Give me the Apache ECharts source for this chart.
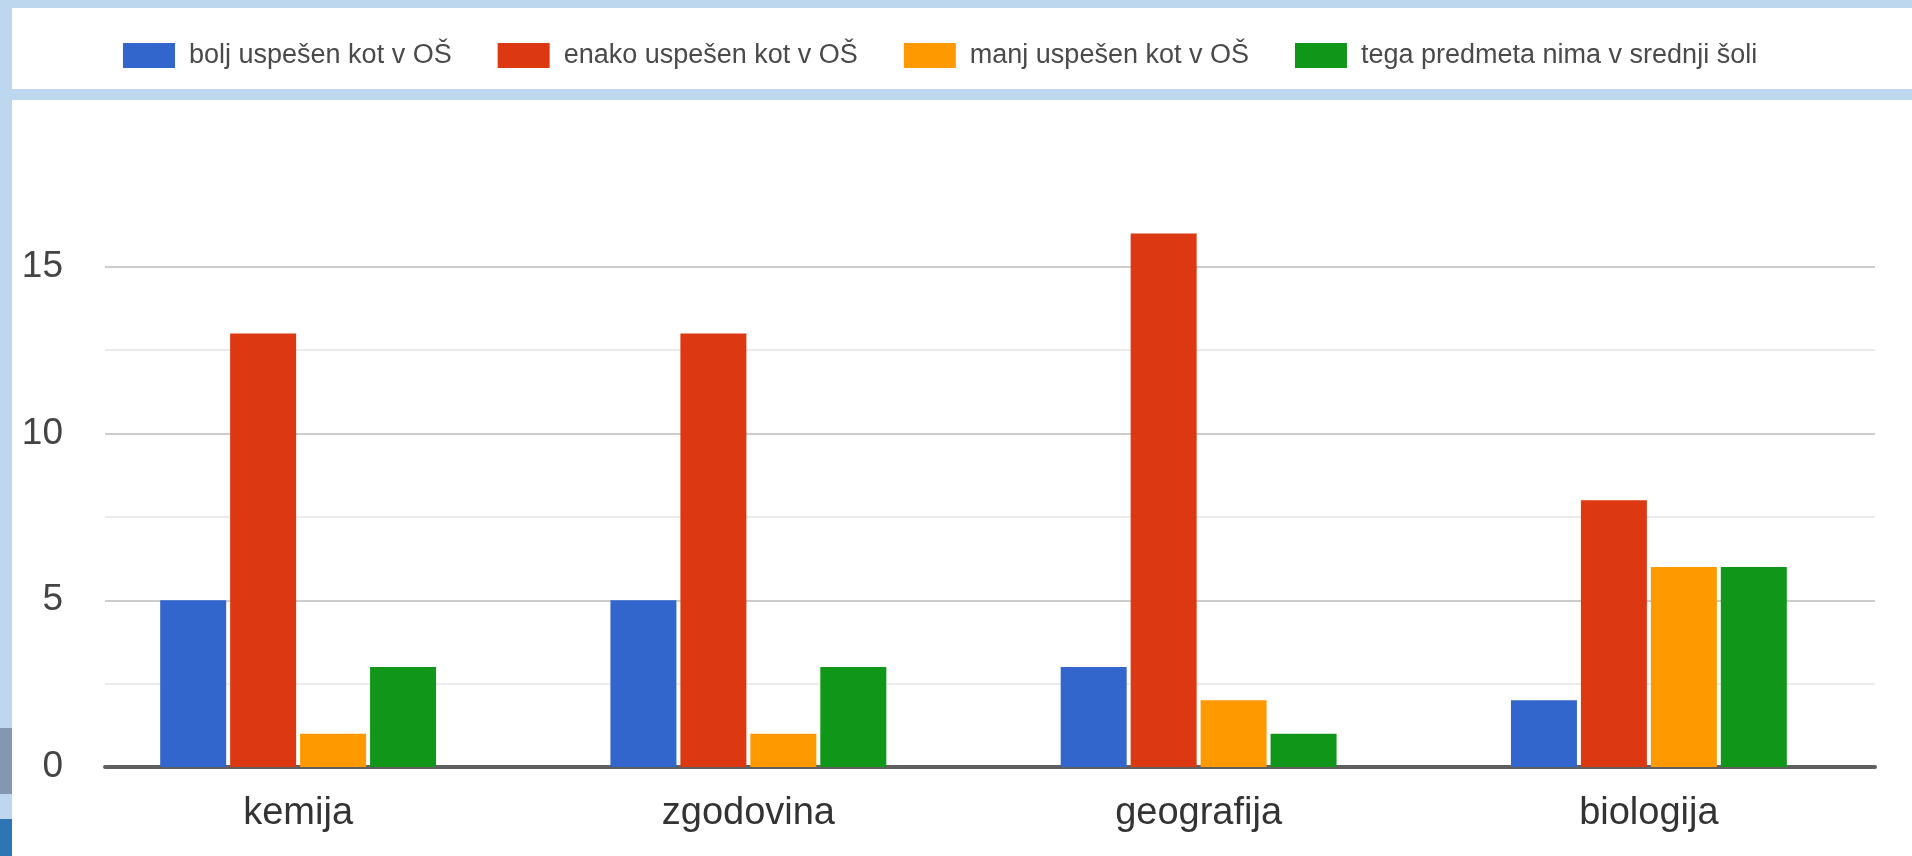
<!DOCTYPE html>
<html>
<head>
<meta charset="utf-8">
<script src="https://cdn.jsdelivr.net/npm/echarts@6/dist/echarts.min.js"></script>
<style>
html,body{margin:0;padding:0;background:#bdd7ee;}
#c{width:1912px;height:856px;}
</style>
</head>
<body>
<div id="c"></div>
<script>
const categories = ['kemija', 'zgodovina', 'geografija', 'biologija'];
const seriesNames = ['bolj uspešen kot v OŠ', 'enako uspešen kot v OŠ', 'manj uspešen kot v OŠ', 'tega predmeta nima v srednji šoli'];
const boljUspesen = [5, 5, 3, 2];
const enakoUspesen = [13, 13, 16, 8];
const manjUspesen = [1, 1, 2, 6];
const nimaPredmeta = [3, 3, 1, 6];
const yTickLabels = ['0', '5', '10', '15'];

const colors = ['#3366cc', '#dc3912', '#ff9900', '#109618'];
const values = [boljUspesen, enakoUspesen, manjUspesen, nimaPredmeta];

const chart = echarts.init(document.getElementById('c'));
const font = 'Liberation Sans, Arial, sans-serif';
const major = '#cccccc', minor = '#ebebeb';

chart.setOption({
  backgroundColor: '#bdd7ee',
  animation: false,
  graphic: [
    {type: 'rect', z: -5, shape: {x: 12, y: 8, width: 1900, height: 81}, style: {fill: '#ffffff'}},
    {type: 'rect', z: -5, shape: {x: 12, y: 100, width: 1900, height: 756}, style: {fill: '#ffffff'}},
    {type: 'rect', z: -5, shape: {x: 0, y: 728, width: 12, height: 66}, style: {fill: '#8497b0'}},
    {type: 'rect', z: -5, shape: {x: 0, y: 819, width: 12, height: 37}, style: {fill: '#2e75b6'}}
  ],
  legend: {
    left: 123, top: 42, padding: 0,
    icon: 'rect', itemWidth: 52, itemHeight: 25, itemGap: 46,
    selectedMode: false,
    textStyle: {fontFamily: font, fontSize: 27, color: '#4a4a4a', padding: [0, 0, 0, 9]},
    data: seriesNames
  },
  grid: [
    {left: 73, right: 38, top: 100, bottom: 89},
    {left: 105, right: 37, top: 100, bottom: 89}
  ],
  xAxis: [
    {type: 'category', gridIndex: 0, data: categories,
     axisLine: {show: false}, axisTick: {show: false},
     axisLabel: {fontFamily: font, fontSize: 38, color: '#333333', margin: 28}},
    {type: 'category', gridIndex: 1, data: categories,
     axisLine: {show: true, lineStyle: {color: '#5f5f5f', width: 4}},
     axisTick: {show: false}, axisLabel: {show: false}, splitLine: {show: false}}
  ],
  yAxis: [
    {type: 'value', gridIndex: 0, min: 0, max: 20, interval: 5,
     axisLine: {show: false}, axisTick: {show: false}, axisLabel: {show: false}, splitLine: {show: false}},
    {type: 'value', gridIndex: 1, min: 0, max: 20, interval: 2.5,
     axisLine: {show: false}, axisTick: {show: false},
     axisLabel: {fontFamily: font, fontSize: 37, color: '#444444', margin: 42,
       formatter: function (v) { const s = String(v); return yTickLabels.indexOf(s) >= 0 ? s : ''; }},
     splitLine: {show: true, lineStyle: {width: 2,
       color: [major, minor, major, minor, major, minor, major, 'rgba(0,0,0,0)', 'rgba(0,0,0,0)']}}}
  ],
  series: values.map(function (arr, i) {
    return {
      name: seriesNames[i], type: 'bar', xAxisIndex: 0, yAxisIndex: 0,
      data: arr, barWidth: 66, barGap: '6%',
      itemStyle: {color: colors[i]}
    };
  })
});
</script>
</body>
</html>
